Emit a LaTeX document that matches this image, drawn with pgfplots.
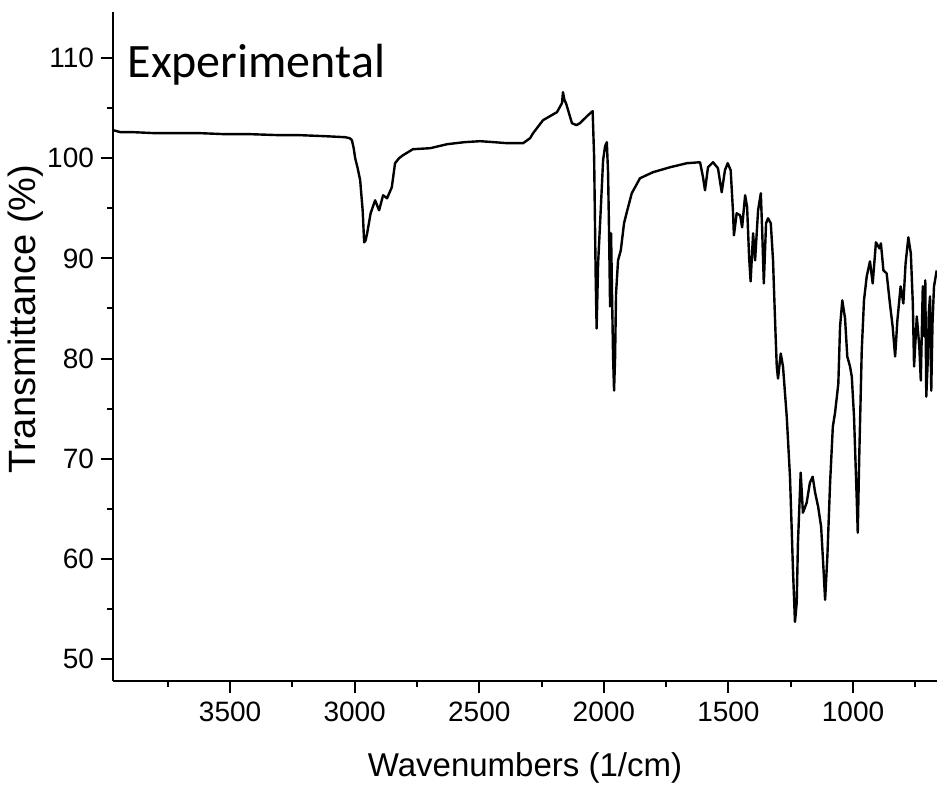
\documentclass[border=0pt]{standalone}
\usepackage{pgfplots}
\pgfplotsset{compat=1.18}
\usepackage{fontspec}
\setmainfont{Liberation Sans}
\newfontfamily\calib{Carlito}
\usetikzlibrary{calc}
\pgfplotstableread{
x y
3970 102.8
3940 102.6
3889 102.6
3800 102.5
3700 102.5
3620 102.5
3520 102.4
3420 102.4
3300 102.3
3219 102.3
3120 102.2
3039 102.1
3020 102.0
3011 101.8
3004 101.0
2998 100.0
2988 99.0
2978 97.8
2968 94.8
2962 91.6
2956 91.8
2950 92.5
2936 94.5
2918 95.8
2902 94.8
2886 96.3
2870 96.0
2851 97.1
2838 99.5
2822 100.0
2806 100.3
2766 100.9
2697 101.0
2629 101.4
2560 101.6
2497 101.7
2440 101.6
2388 101.5
2324 101.5
2296 102.0
2284 102.5
2244 103.8
2188 104.6
2168 105.5
2164 106.6
2158 105.8
2152 105.5
2128 103.5
2110 103.3
2096 103.5
2063 104.3
2045 104.7
2039 100.1
2033 88.5
2029 83.0
2023 89.5
2012 95.1
2003 99.8
1995 101.2
1988 101.6
1983 98.5
1979 92.5
1975 85.2
1971 92.5
1967 86.2
1963 80.2
1959 76.8
1955 80.0
1951 86.5
1943 89.8
1932 90.8
1919 93.5
1908 94.6
1888 96.5
1855 98.0
1803 98.6
1734 99.1
1667 99.5
1614 99.6
1602 98.1
1594 96.8
1582 99.1
1562 99.6
1542 99.0
1527 96.6
1514 98.8
1503 99.5
1491 98.8
1482 94.8
1478 92.3
1467 94.5
1453 94.3
1445 93.1
1433 96.3
1425 95.1
1417 90.1
1411 87.7
1401 92.5
1393 89.8
1381 94.8
1370 96.5
1365 93.1
1358 87.5
1349 93.5
1341 94.0
1330 93.5
1321 89.8
1317 86.8
1311 82.5
1306 79.2
1301 78.0
1290 80.5
1281 79.2
1266 74.2
1253 68.2
1246 62.9
1241 58.9
1233 53.7
1226 55.6
1221 61.6
1210 68.6
1201 64.6
1186 65.6
1173 67.6
1162 68.2
1152 66.6
1140 65.2
1128 63.2
1119 59.2
1112 55.9
1103 60.2
1092 67.6
1081 73.2
1072 74.6
1059 77.5
1052 83.2
1043 85.8
1032 84.0
1023 80.2
1012 79.2
1005 78.2
996 74.2
985 65.9
981 62.6
975 70.2
965 80.8
956 85.8
945 88.2
932 89.7
921 87.5
908 91.6
894 91.0
888 91.5
878 88.8
865 88.5
852 85.5
841 83.2
831 80.2
822 83.8
809 87.2
798 85.5
789 89.5
778 92.1
768 90.5
760 85.5
755 79.2
744 84.2
734 81.2
728 77.8
720 87.2
714 82.2
710 87.8
706 76.2
700 79.8
696 84.5
691 86.2
686 76.8
681 83.5
675 87.2
664 88.8
}\spec
\begin{document}
\begin{tikzpicture}
\begin{axis}[
  name=ax,
  scale only axis,
  width=412pt, height=334.5pt,
  x dir=reverse,
  xmin=663, xmax=3970,
  ymin=47.8, ymax=114.6,
  axis x line*=bottom, axis y line*=left,
  axis line style={line width=1pt},
  tick align=outside,
  major tick length=6pt, minor tick length=3pt,
  every tick/.style={line width=1pt, black},
  xtick={1000,1500,2000,2500,3000,3500},
  minor xtick={750,1250,1750,2250,2750,3250,3750},
  ytick={50,60,70,80,90,100,110},
  minor ytick={55,65,75,85,95,105},
  /pgf/number format/assume math mode=true,
  /pgf/number format/1000 sep={},
  tick label style={font=\fontsize{14}{16}\selectfont},
  xticklabel style={yshift=-1pt},
  yticklabel style={xshift=0pt},
  xlabel={Wavenumbers (1/cm)},
  ylabel={Transmittance (\%)},
  xlabel style={font=\fontsize{16.5}{19}\selectfont, at={(axis description cs:0.5,0)}, anchor=base, yshift=-48pt},
  ylabel style={font=\fontsize{19}{22}\selectfont, at={(axis description cs:0,0.541)}, anchor=base, yshift=38.5pt},
  clip=true,
]
\addplot[black, line width=1.2pt, line join=round] table[x=x,y=y]{\spec};
\node[anchor=base west, inner sep=0pt, font=\calib\fontsize{24}{28}\selectfont] at (axis cs:3913,108.1) {Experimental};
\end{axis}
\pgfresetboundingbox
\path[use as bounding box] ([shift={(-56.5pt,-52.5pt)}]ax.south west) rectangle ([shift={(0pt,6pt)}]ax.north east);
\end{tikzpicture}
\end{document}
